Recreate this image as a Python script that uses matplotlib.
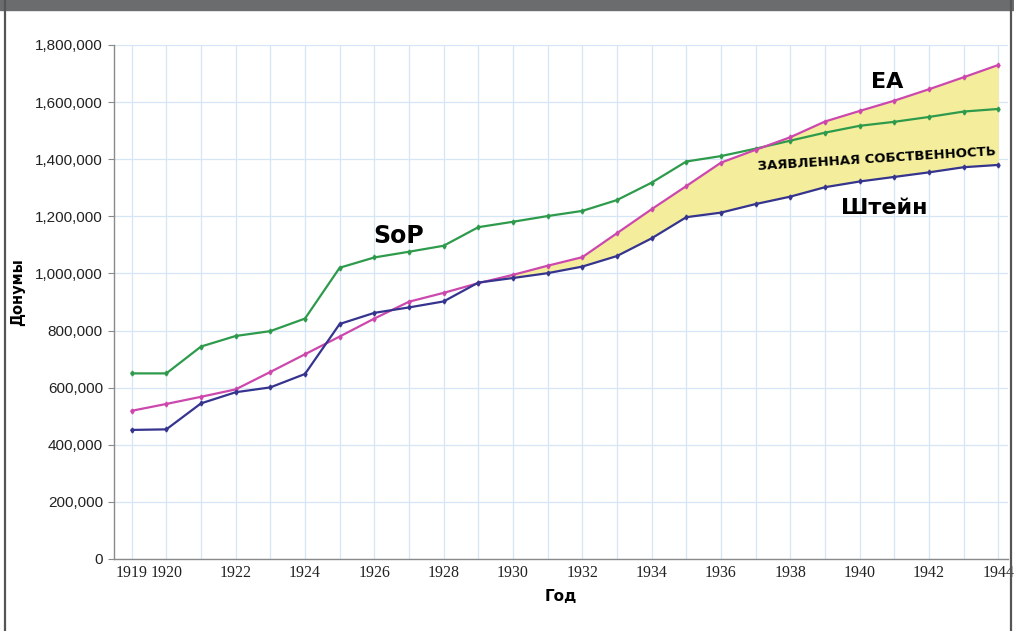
import matplotlib.pyplot as plt
from matplotlib.patches import Rectangle
from matplotlib.lines import Line2D
from matplotlib.ticker import FuncFormatter

years = list(range(1919, 1945))

sop = [650000, 650000, 744000, 781000, 798000, 842000, 1020000, 1056000, 1076000,
       1097000, 1162000, 1181000, 1201000, 1219000, 1257000, 1318000, 1392000,
       1411000, 1437000, 1465000, 1493000, 1517000, 1531000, 1548000, 1567000, 1576000]
ea = [519000, 543000, 568000, 594000, 655000, 717000, 779000, 842000, 901000,
      932000, 966000, 995000, 1027000, 1057000, 1141000, 1225000, 1306000,
      1388000, 1433000, 1477000, 1532000, 1569000, 1605000, 1645000, 1687000, 1730000]
stein = [452000, 454000, 545000, 584000, 601000, 648000, 823000, 862000, 881000,
         902000, 968000, 984000, 1001000, 1024000, 1061000, 1123000, 1197000,
         1213000, 1243000, 1269000, 1302000, 1322000, 1338000, 1354000, 1372000, 1380000]

xticks = [1919, 1920] + list(range(1922, 1946, 2))
yticks = list(range(0, 1800001, 200000))

fig = plt.figure(figsize=(10.14, 6.31), dpi=100)
ax = fig.add_axes([114 / 1014, 72 / 631, (1008 - 114) / 1014, (559 - 45) / 631])

# frame around the figure
fig.patches.append(Rectangle((0, 621 / 631), 1, 10 / 631, transform=fig.transFigure,
                             color='#6b6c6e', zorder=0))
fig.lines.append(Line2D([5 / 1014, 5 / 1014], [0, 1], transform=fig.transFigure,
                        color='#555555', lw=1.6))
fig.lines.append(Line2D([1011 / 1014, 1011 / 1014], [0, 1], transform=fig.transFigure,
                        color='#555555', lw=1.6))

# claimed property area between EA and Stein
fill_from = years.index(1929)
ax.fill_between(years[fill_from:], stein[fill_from:], ea[fill_from:],
                color='#f4ee9c', zorder=1, lw=0)

ax.plot(years, sop, color='#2e9a4c', lw=1.6, marker='d', ms=2.5, zorder=3)
ax.plot(years, ea, color='#cc48ad', lw=1.6, marker='d', ms=2.5, zorder=3)
ax.plot(years, stein, color='#35348f', lw=1.6, marker='d', ms=2.5, zorder=3)

ax.set_xlim(1918.49, 1944.28)
ax.set_ylim(0, 1800000)
ax.set_xticks(xticks)
ax.set_yticks(yticks)
ax.yaxis.set_major_formatter(FuncFormatter(lambda v, p: f'{int(v):,}'))

# one vertical grid line per year
for yr in years:
    ax.axvline(yr, color='#d5e7f6', lw=0.9, zorder=0)
ax.grid(which='major', axis='y', color='#d5e7f6', lw=0.9)
ax.set_axisbelow(True)

for side in ['top', 'right']:
    ax.spines[side].set_visible(False)
for side in ['left', 'bottom']:
    ax.spines[side].set_color('#8a8a8a')
    ax.spines[side].set_linewidth(1.0)

ax.tick_params(axis='y', length=4, color='#8a8a8a', pad=4)
ax.tick_params(axis='x', which='both', length=0, pad=4)
for lab in ax.get_yticklabels():
    lab.set_fontfamily('Liberation Sans')
    lab.set_fontsize(11)
    lab.set_color('#222222')
for lab in ax.get_xticklabels():
    lab.set_fontfamily('Liberation Serif')
    lab.set_fontsize(11.5)
    lab.set_color('#222222')

ax.set_xlabel('Год', fontsize=11, fontweight='bold', family='DejaVu Sans', labelpad=6)
fig.text(18 / 1014, 1 - 292 / 631, 'Донумы', rotation=90, fontsize=10.5,
         fontweight='bold', ha='center', va='center')

ax.text(1926.7, 1130000, 'SoP', fontsize=17, fontweight='bold', ha='center', va='center')
ax.text(1940.8, 1670000, 'EA', fontsize=16, fontweight='bold', ha='center', va='center')
ax.text(1940.7, 1230000, 'Штейн', fontsize=16, fontweight='bold', ha='center', va='center')
ax.text(1940.5, 1400000, 'ЗАЯВЛЕННАЯ СОБСТВЕННОСТЬ', fontsize=9.5, fontweight='bold',
        ha='center', va='center', rotation=3.6)

fig.savefig('out.png', dpi=100)
